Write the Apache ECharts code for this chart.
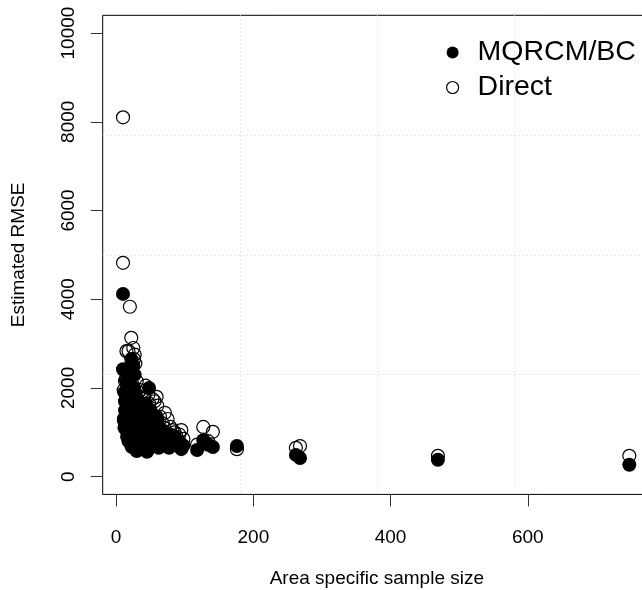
<!DOCTYPE html>
<html>
<head>
<meta charset="utf-8">
<script src="https://cdn.jsdelivr.net/npm/echarts@6/dist/echarts.min.js"></script>
<style>
  html, body { margin: 0; padding: 0; background: #fff; }
  #chart { width: 642px; height: 590px; }
</style>
</head>
<body>
<div id="chart"></div>
<script>
// Area specific sample size for each small area
const sampleSize = [
  10, 10, 20, 22, 18, 25, 27, 15, 26, 12,
  14, 16, 11, 13, 17, 19, 21, 23, 24, 28,
  30, 32, 29, 31, 33, 35, 37, 39, 12, 14,
  18, 22, 25, 27, 34, 36, 38, 40, 42, 44,
  46, 48, 59, 45, 50, 52, 54, 56, 58, 60,
  62, 64, 66, 68, 70, 71, 73, 75, 77, 79,
  82, 85, 88, 95, 92, 98, 118, 127, 134, 141,
  176, 262, 268, 469, 748,
  15, 23, 30, 40, 16, 13, 19, 35, 43, 47, 53
];

// Estimated RMSE of the MQRCM/BC estimator (filled points)
const rmseMQRCM = [
  4120, 2420, 2100, 2650, 2400, 2500, 2300, 2150, 2000, 1900,
  1700, 1450, 1300, 1150, 1600, 1350, 1800, 1550, 1250, 1900,
  1700, 1400, 1100, 1000, 1300, 1500, 1200, 950, 1100, 1200,
  800, 700, 950, 1050, 850, 750, 1100, 1400, 1250, 900,
  600, 2000, 1350, 560, 1150, 1000, 800, 900, 700, 1300,
  650, 1100, 750, 950, 850, 1000, 700, 800, 650, 950,
  750, 900, 700, 620, 800, 700, 600, 820, 720, 670,
  690, 490, 420, 380, 270,
  1050, 670, 580, 620, 900, 1500, 1950, 620, 1650, 1500, 1400
];

// Estimated RMSE of the direct estimator (open points)
const rmseDirect = [
  8100, 4820, 3830, 3130, 2830, 2900, 2750, 2830, 2650, 2400,
  2200, 2000, 1950, 1700, 2250, 1850, 2350, 2100, 1800, 2550,
  2150, 1900, 1600, 1450, 1700, 1950, 1650, 1350, 1250, 1150,
  1050, 900, 1200, 1400, 1150, 1000, 1450, 1750, 1550, 1200,
  800, 1650, 1800, 700, 1500, 1300, 1050, 1700, 950, 1600,
  850, 1350, 1000, 1200, 1100, 1440, 900, 1300, 800, 1120,
  1050, 1000, 900, 1050, 950, 850, 720, 1120, 800, 1010,
  620, 650, 690, 470, 470,
  1200, 850, 750, 900, 1300, 2150, 2450, 780, 2050, 1850, 1750
];

const xTicks = [0, 200, 400, 600];
const yTicks = [0, 2000, 4000, 6000, 8000, 10000];

const FONT = '"Liberation Sans", Arial, Helvetica, sans-serif';

const mqData = sampleSize.map((n, i) => [n, rmseMQRCM[i]]);
const directData = sampleSize.map((n, i) => [n, rmseDirect[i]]);

// x range: data range 10..750 widened by 4% on both ends; y range 0..10000 widened by 4%
const xMin = 10 - 0.04 * 740, xMax = 750 + 0.04 * 740;
const yMin = -400, yMax = 10400;

const chart = echarts.init(document.getElementById('chart'), null, { renderer: 'canvas' });

chart.setOption({
  animation: false,
  backgroundColor: '#ffffff',
  textStyle: { fontFamily: FONT },
  grid: {
    left: 102.7,
    top: 15.3,
    width: 548.3,
    height: 479.1,
    containLabel: false,
    outerBoundsMode: 'none',
    show: true,
    borderColor: '#000',
    borderWidth: 1,
    backgroundColor: 'transparent'
  },
  legend: {
    orient: 'vertical',
    left: 441,
    top: 33,
    itemWidth: 40,
    itemHeight: 12,
    itemGap: 6,
    textStyle: { fontFamily: FONT, fontSize: 28.5, color: '#000' },
    data: [
      { name: 'MQRCM/BC', icon: 'circle', itemStyle: { color: '#000', borderWidth: 0 } },
      { name: 'Direct', icon: 'circle',
        itemStyle: { color: 'rgba(0,0,0,0)', borderColor: '#000', borderWidth: 1.2 } }
    ]
  },
  xAxis: [
    {
      type: 'value',
      min: xMin,
      max: xMax,
      position: 'bottom',
      name: 'Area specific sample size',
      nameLocation: 'middle',
      nameGap: 75,
      nameTextStyle: { fontFamily: FONT, fontSize: 19, color: '#000' },
      axisLine: { show: false, onZero: false },
      axisTick: {
        show: true, inside: false, length: 12, customValues: xTicks,
        lineStyle: { color: '#333', width: 1 }
      },
      axisLabel: {
        show: true, customValues: xTicks, margin: 34,
        fontFamily: FONT, fontSize: 19, color: '#000',
        formatter: v => String(v)
      },
      splitLine: { show: false }
    },
    {
      // quarter divisions of the plot region for the dotted reference grid
      type: 'value', min: 0, max: 4, interval: 1, position: 'top',
      axisLine: { show: false, onZero: false }, axisTick: { show: false }, axisLabel: { show: false },
      splitLine: {
        show: true, showMinLine: false, showMaxLine: false,
        lineStyle: { color: '#d3d3d3', type: [1, 3], width: 1 }
      }
    }
  ],
  yAxis: [
    {
      type: 'value',
      min: yMin,
      max: yMax,
      position: 'left',
      name: 'Estimated RMSE',
      nameLocation: 'middle',
      nameGap: 74,
      nameTextStyle: { fontFamily: FONT, fontSize: 19, color: '#000' },
      axisLine: { show: false, onZero: false },
      axisTick: {
        show: true, inside: false, length: 12, customValues: yTicks,
        lineStyle: { color: '#333', width: 1 }
      },
      axisLabel: {
        show: true, customValues: yTicks, rotate: 90, margin: 24,
        fontFamily: FONT, fontSize: 19, color: '#000',
        formatter: v => String(v)
      },
      splitLine: { show: false }
    },
    {
      type: 'value', min: 0, max: 4, interval: 1, position: 'right',
      axisLine: { show: false, onZero: false }, axisTick: { show: false }, axisLabel: { show: false },
      splitLine: {
        show: true, showMinLine: false, showMaxLine: false,
        lineStyle: { color: '#d3d3d3', type: [1, 3], width: 1 }
      }
    }
  ],
  series: [
    {
      name: 'Direct',
      type: 'scatter',
      xAxisIndex: 0,
      yAxisIndex: 0,
      symbol: 'circle',
      symbolSize: 13,
      itemStyle: { color: 'rgba(0,0,0,0)', borderColor: '#000', borderWidth: 1.2, opacity: 1 },
      emphasis: { disabled: true },
      data: directData
    },
    {
      name: 'MQRCM/BC',
      type: 'scatter',
      xAxisIndex: 0,
      yAxisIndex: 0,
      symbol: 'circle',
      symbolSize: 14,
      itemStyle: { color: '#000', opacity: 1 },
      emphasis: { disabled: true },
      data: mqData
    }
  ]
});
</script>
</body>
</html>
